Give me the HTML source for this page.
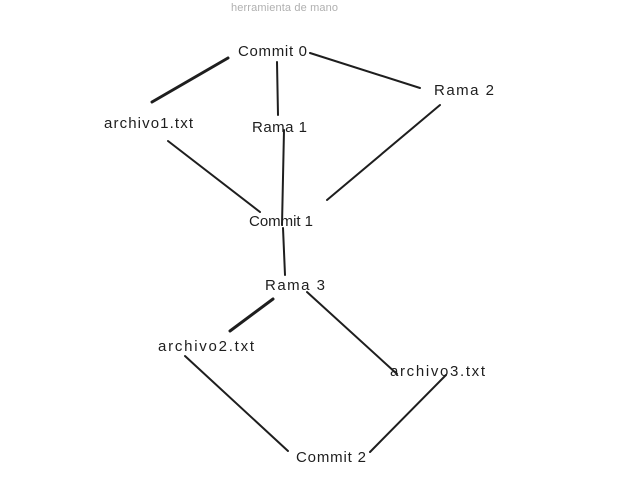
<!DOCTYPE html>
<html><head><meta charset="utf-8"><style>
html,body{margin:0;padding:0;background:#fff;width:625px;height:495px;overflow:hidden}
svg{display:block}
text{font-family:"Liberation Sans",sans-serif;fill:#1e1e1e}
</style></head><body>
<svg width="625" height="495" viewBox="0 0 625 495">
<text x="231" y="11" font-size="11" textLength="107" style="fill:#b0b0b0">herramienta de mano</text>
<g stroke="#1e1e1e" stroke-linecap="round" fill="none" stroke-width="2">
<line x1="228" y1="58" x2="152" y2="102" stroke-width="3"/>
<line x1="277" y1="62" x2="278" y2="115"/>
<line x1="310" y1="53" x2="420" y2="88"/>
<line x1="440" y1="105" x2="327" y2="200"/>
<line x1="168" y1="141" x2="260" y2="212"/>
<line x1="284" y1="130" x2="282" y2="225"/>
<line x1="283" y1="228" x2="285" y2="275"/>
<line x1="273" y1="299" x2="230" y2="331" stroke-width="3"/>
<line x1="307" y1="292" x2="397" y2="374"/>
<line x1="185" y1="356" x2="288" y2="451"/>
<line x1="370" y1="452" x2="446" y2="375"/>
</g>
<g font-size="15">
<text x="238" y="56" textLength="69">Commit 0</text>
<text x="434" y="95" textLength="60">Rama 2</text>
<text x="104" y="128" textLength="89">archivo1.txt</text>
<text x="252" y="132" textLength="55">Rama 1</text>
<text x="249" y="226" textLength="64">Commit 1</text>
<text x="265" y="290" textLength="60">Rama 3</text>
<text x="158" y="351" textLength="96">archivo2.txt</text>
<text x="390" y="376" textLength="95">archivo3.txt</text>
<text x="296" y="462" textLength="70">Commit 2</text>
</g>
</svg>
</body></html>
